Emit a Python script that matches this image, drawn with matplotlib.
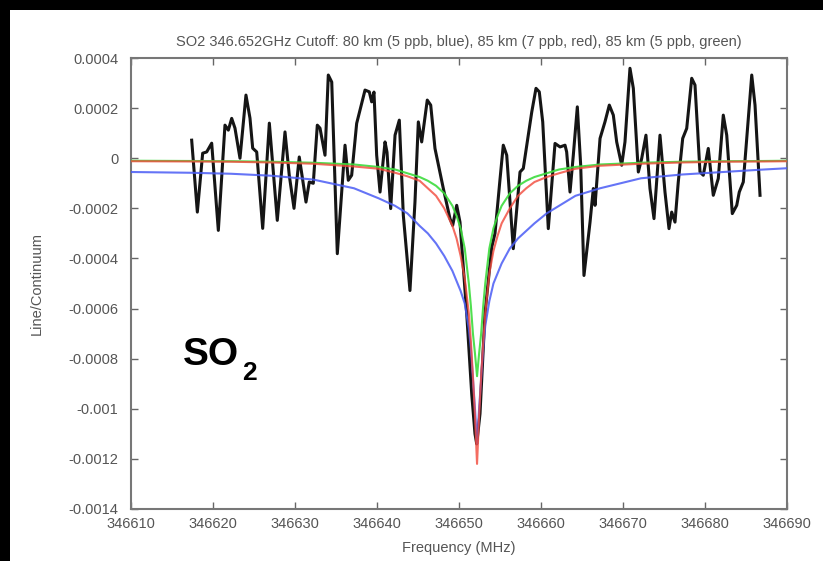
import numpy as np
import matplotlib.pyplot as plt
from matplotlib.patches import Rectangle
from matplotlib.ticker import ScalarFormatter, FormatStrFormatter

plt.rcParams['font.family'] = ['Liberation Sans', 'DejaVu Sans']
plt.rcParams['axes.unicode_minus'] = False

# observed spectrum (MHz, line/continuum)
freq_obs = [346617.40, 346618.09, 346618.74, 346619.23, 346619.84, 346620.65, 346621.46, 346621.87,
            346622.28, 346622.68, 346623.29, 346624.02, 346624.51, 346624.84, 346625.33, 346626.06,
            346626.87, 346627.84, 346628.78, 346629.30, 346629.88, 346630.52, 346631.34, 346631.74,
            346632.23, 346632.72, 346633.05, 346633.66, 346634.06, 346634.48, 346635.16, 346636.10,
            346636.50, 346636.91, 346637.52, 346638.54, 346639.06, 346639.35, 346639.63, 346639.96,
            346640.37, 346640.98, 346641.22, 346641.67, 346642.20, 346642.72, 346643.21, 346644.02,
            346644.63, 346645.04, 346645.45, 346646.13, 346646.55, 346647.07, 346648.09, 346648.90,
            346649.23, 346649.72, 346650.12, 346650.94, 346651.55, 346651.95, 346652.16, 346652.56,
            346653.17, 346653.99, 346654.39, 346654.99, 346655.40, 346655.82, 346656.62, 346657.44,
            346657.84, 346658.45, 346658.87, 346659.39, 346659.79, 346660.21, 346660.89, 346661.71,
            346662.32, 346662.93, 346663.13, 346663.54, 346663.94, 346664.43, 346664.84, 346665.24,
            346665.98, 346666.38, 346666.59, 346667.20, 346667.80, 346668.33, 346668.82, 346669.23,
            346669.84, 346670.24, 346670.85, 346671.26, 346671.87, 346672.28, 346672.80, 346673.29,
            346673.78, 346674.51, 346675.12, 346675.61, 346675.94, 346676.34, 346676.74, 346677.28,
            346677.77, 346678.38, 346678.78, 346679.39, 346679.79, 346680.40, 346681.01, 346681.62,
            346682.23, 346682.65, 346683.33, 346683.87, 346684.18, 346684.67, 346685.70, 346686.10,
            346686.71]
obs = [0.000072, -0.000215, 0.000020, 0.000025, 0.000060, -0.000288, 0.000132, 0.000112,
       0.000159, 0.000120, 0.000000, 0.000252, 0.000160, 0.000040, 0.000025, -0.000280,
       0.000140, -0.000248, 0.000105, -0.000068, -0.000200, 0.000005, -0.000175, -0.000095,
       -0.000100, 0.000132, 0.000120, 0.000012, 0.000332, 0.000304, -0.000381, 0.000052,
       -0.000088, -0.000068, 0.000139, 0.000272, 0.000265, 0.000225, 0.000264, 0.000012,
       -0.000135, 0.000065, 0.000024, -0.000201, 0.000092, 0.000152, -0.000228, -0.000528,
       -0.000175, 0.000145, 0.000065, 0.000232, 0.000212, 0.000039, -0.000121, -0.000241,
       -0.000268, -0.000188, -0.000255, -0.000620, -0.000940, -0.001100, -0.001140, -0.001020,
       -0.000620, -0.000355, -0.000300, -0.000088, 0.000052, 0.000012, -0.000361, -0.000055,
       -0.000041, 0.000092, 0.000184, 0.000279, 0.000265, 0.000145, -0.000281, 0.000059,
       0.000045, 0.000052, 0.000025, -0.000135, 0.000012, 0.000205, -0.000028, -0.000468,
       -0.000255, -0.000121, -0.000188, 0.000079, 0.000145, 0.000212, 0.000172, 0.000065,
       -0.000028, 0.000065, 0.000359, 0.000279, -0.000055, -0.000001, 0.000092, -0.000121,
       -0.000241, 0.000092, -0.000135, -0.000281, -0.000215, -0.000255, -0.000095, 0.000079,
       0.000119, 0.000319, 0.000292, -0.000055, -0.000068, 0.000039, -0.000148, -0.000081,
       0.000172, 0.000092, -0.000221, -0.000188, -0.000135, -0.000095, 0.000332, 0.000212,
       -0.000148]

# model profiles (blue: 80 km/5 ppb, red: 85 km/7 ppb, green: 85 km/5 ppb)
freq_mod = [346610.0, 346617.2, 346622.2, 346627.2, 346632.2, 346637.2, 346640.2, 346642.2,
            346643.7, 346645.2, 346646.2, 346647.2, 346648.2, 346649.2, 346649.7, 346650.2,
            346650.7, 346651.2, 346651.45, 346651.7, 346651.95, 346652.2,
            346652.45, 346652.7, 346652.95, 346653.2, 346653.7, 346654.2, 346654.7, 346655.2,
            346656.2, 346657.2, 346658.2, 346659.2, 346660.7, 346662.2, 346664.2, 346667.2,
            346672.2, 346677.2, 346682.2, 346687.2, 346690.0]
mod_blue = [-0.000055, -0.000058, -0.000062, -0.000070, -0.000085, -0.000120, -0.000160, -0.000190,
            -0.000220, -0.000270, -0.000300, -0.000340, -0.000390, -0.000450, -0.000490, -0.000530,
            -0.000580, -0.000680, -0.000760, -0.000880, -0.001000, -0.001140,
            -0.001000, -0.000880, -0.000760, -0.000670, -0.000570, -0.000500, -0.000460, -0.000420,
            -0.000360, -0.000320, -0.000290, -0.000260, -0.000220, -0.000190, -0.000150, -0.000120,
            -0.000080, -0.000065, -0.000055, -0.000045, -0.000040]
mod_red = [-0.000012, -0.000013, -0.000014, -0.000017, -0.000022, -0.000033, -0.000042, -0.000058,
           -0.000072, -0.000090, -0.000120, -0.000150, -0.000200, -0.000270, -0.000320, -0.000390,
           -0.000480, -0.000620, -0.000730, -0.000870, -0.001030, -0.001220,
           -0.001030, -0.000870, -0.000740, -0.000620, -0.000460, -0.000370, -0.000310, -0.000260,
           -0.000200, -0.000150, -0.000120, -0.000095, -0.000075, -0.000060, -0.000042, -0.000030,
           -0.000022, -0.000017, -0.000014, -0.000013, -0.000012]
mod_green = [-0.000010, -0.000011, -0.000012, -0.000014, -0.000018, -0.000025, -0.000035, -0.000045,
             -0.000060, -0.000075, -0.000090, -0.000110, -0.000140, -0.000190, -0.000230, -0.000280,
             -0.000360, -0.000500, -0.000590, -0.000700, -0.000780, -0.000870,
             -0.000780, -0.000700, -0.000590, -0.000500, -0.000360, -0.000280, -0.000230, -0.000190,
             -0.000140, -0.000110, -0.000090, -0.000075, -0.000060, -0.000045, -0.000035, -0.000025,
             -0.000018, -0.000014, -0.000012, -0.000011, -0.000010]

xticks = [346610, 346620, 346630, 346640, 346650, 346660, 346670, 346680, 346690]
yticks = [0.0004, 0.0002, 0, -0.0002, -0.0004, -0.0006, -0.0008, -0.001, -0.0012, -0.0014]

W, H = 823, 561
fig = plt.figure(figsize=(W / 100, H / 100), dpi=100, facecolor='black')
fig.patches.append(Rectangle((10 / W, 0), 1, 1 - 10 / H, transform=fig.transFigure,
                             facecolor='white', edgecolor='none', zorder=-10))

ax = fig.add_axes([131 / W, 1 - 509 / H, (787 - 131) / W, (509 - 58) / H])
ax.set_facecolor('white')

ax.plot(freq_obs, obs, color='#151515', lw=2.2, zorder=2, solid_joinstyle='round')
ax.plot(freq_mod, mod_blue, color='#4a5cf5', lw=1.5, alpha=0.85, zorder=3)
ax.plot(freq_mod, mod_green, color='#3ddc3d', lw=1.5, alpha=0.9, zorder=4)
ax.plot(freq_mod, mod_red, color='#f2483a', lw=1.5, alpha=0.8, zorder=5)

ax.set_xlim(346610, 346690)
ax.set_ylim(-0.0014, 0.0004)
ax.set_xticks(xticks)
ax.set_yticks(yticks)
ax.xaxis.set_major_formatter(ScalarFormatter(useOffset=False))
ax.yaxis.set_major_formatter(FormatStrFormatter('%g'))

gray = '#555555'
for s in ax.spines.values():
    s.set_color('#777777')
    s.set_linewidth(1.5)
ax.tick_params(direction='in', length=5, width=1, color='#666666', top=True, right=True,
               labelsize=10.5, labelcolor=gray)
ax.tick_params(axis='y', pad=9)
ax.tick_params(axis='x', pad=6)

ax.set_title('SO2 346.652GHz Cutoff: 80 km (5 ppb, blue), 85 km (7 ppb, red), 85 km (5 ppb, green)',
             fontsize=10.5, color=gray, pad=0, y=1 + 16 / 451, va='center')
ax.set_xlabel('Frequency (MHz)', fontsize=10.5, color=gray)
ax.xaxis.label.set_va('center')
ax.xaxis.set_label_coords(0.5, -(548 - 509) / 451)
ax.set_ylabel('Line/Continuum', fontsize=10.5, color=gray)
ax.yaxis.label.set_va('center')
ax.yaxis.set_label_coords(-(131 - 37) / 656, 0.5)

fig.text(183 / W, 1 - 365 / H, 'SO', fontsize=28, fontweight='bold', color='black',
         ha='left', va='baseline')
fig.text(242 / W, 1 - 380 / H, '2', fontsize=19, fontweight='bold', color='black',
         ha='left', va='baseline')

fig.savefig('out.png', dpi=100, facecolor='black')
